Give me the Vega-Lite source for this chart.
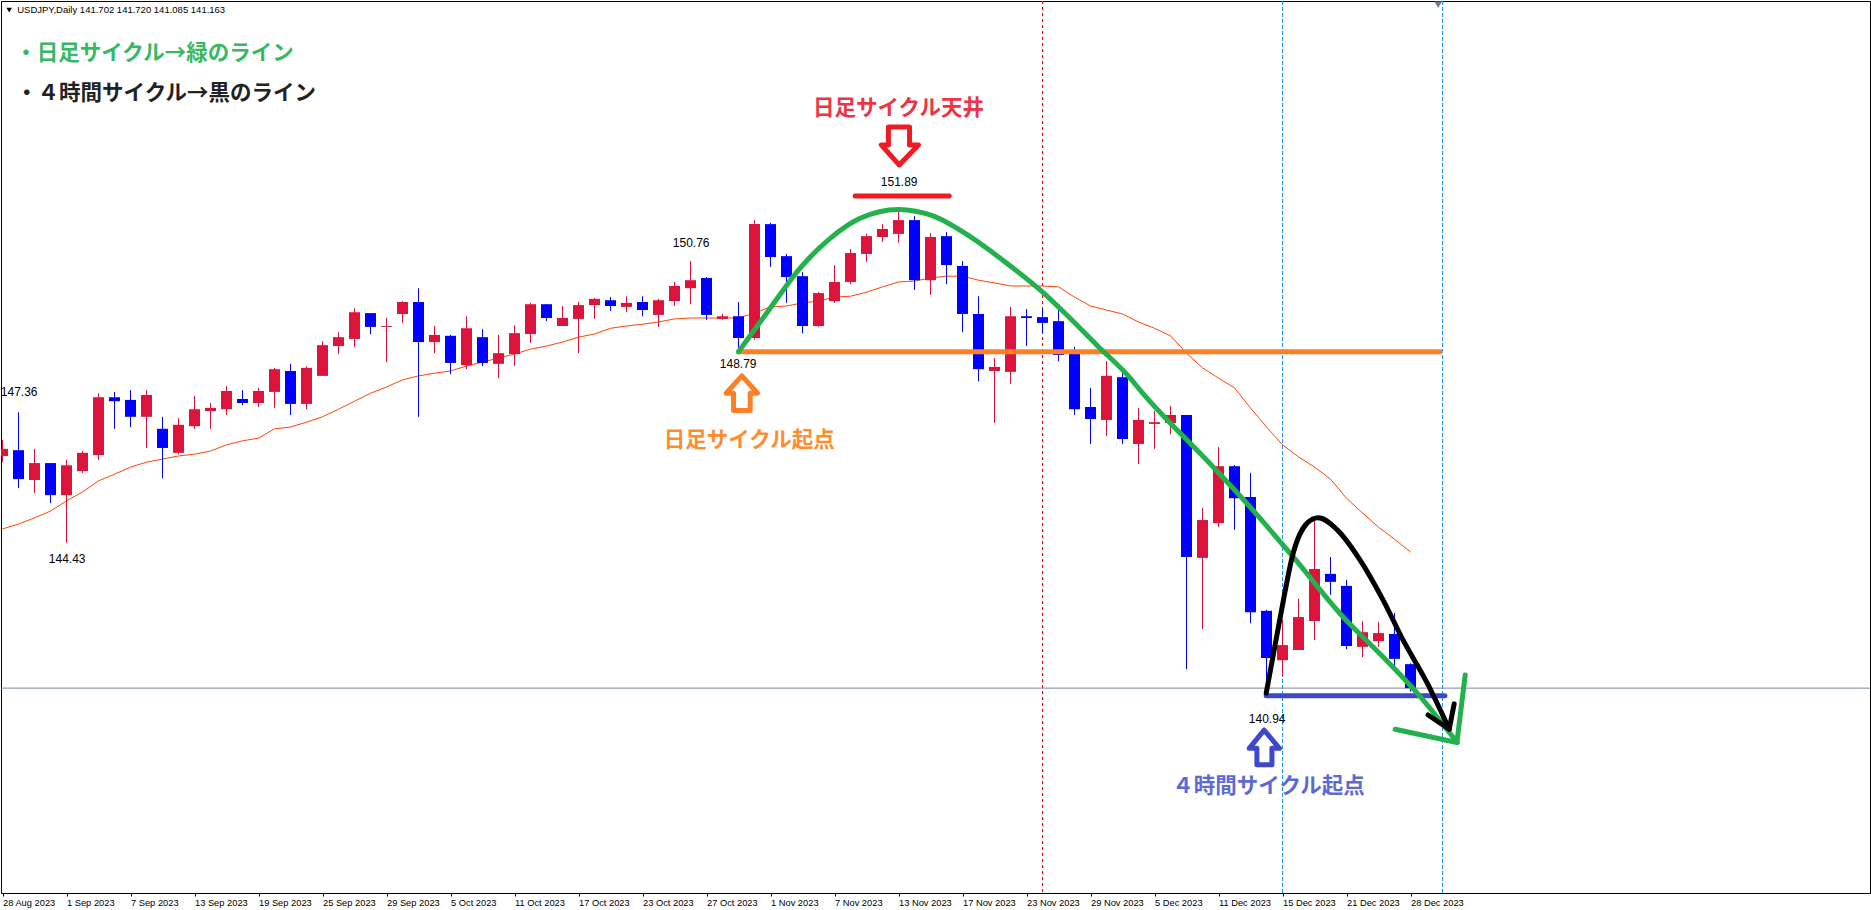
{
"$schema":"https://vega.github.io/schema/vega-lite/v6.json",
"width":1869,"height":892,
"autosize":{"type":"none"},
"padding":{"left":1,"top":1,"right":1,"bottom":17},
"background":"#ffffff",
"view":{"stroke":"#000000","strokeWidth":1,"fill":"#ffffff"},
"config":{"scale":{"continuousPadding":0},"axis":{"grid":false,"domain":false,"title":null}},
"datasets":{
"candles":[
{"i":0,"o":146.38,"h":146.74,"l":146.24,"c":146.54,"ma":144.74},
{"i":1,"o":146.51,"h":147.36,"l":145.66,"c":145.86,"ma":144.85},
{"i":2,"o":145.84,"h":146.54,"l":145.55,"c":146.22,"ma":144.99},
{"i":3,"o":146.22,"h":146.22,"l":145.32,"c":145.50,"ma":145.14},
{"i":4,"o":145.50,"h":146.29,"l":144.43,"c":146.17,"ma":145.37},
{"i":5,"o":146.04,"h":146.49,"l":146.00,"c":146.45,"ma":145.57},
{"i":6,"o":146.40,"h":147.79,"l":146.29,"c":147.70,"ma":145.82},
{"i":7,"o":147.70,"h":147.82,"l":146.99,"c":147.61,"ma":145.97},
{"i":8,"o":147.64,"h":147.86,"l":147.03,"c":147.26,"ma":146.13},
{"i":9,"o":147.26,"h":147.86,"l":146.56,"c":147.75,"ma":146.24},
{"i":10,"o":146.99,"h":147.26,"l":145.88,"c":146.56,"ma":146.31},
{"i":11,"o":146.45,"h":147.23,"l":146.42,"c":147.08,"ma":146.38},
{"i":12,"o":147.05,"h":147.73,"l":146.99,"c":147.43,"ma":146.42},
{"i":13,"o":147.39,"h":147.57,"l":146.99,"c":147.46,"ma":146.49},
{"i":14,"o":147.43,"h":147.95,"l":147.30,"c":147.84,"ma":146.63},
{"i":15,"o":147.66,"h":147.86,"l":147.52,"c":147.57,"ma":146.72},
{"i":16,"o":147.57,"h":147.91,"l":147.48,"c":147.84,"ma":146.78},
{"i":17,"o":147.82,"h":148.36,"l":147.46,"c":148.33,"ma":146.99},
{"i":18,"o":148.29,"h":148.45,"l":147.30,"c":147.55,"ma":147.03},
{"i":19,"o":147.55,"h":148.40,"l":147.43,"c":148.36,"ma":147.14},
{"i":20,"o":148.18,"h":148.96,"l":148.18,"c":148.87,"ma":147.26},
{"i":21,"o":148.85,"h":149.16,"l":148.67,"c":149.05,"ma":147.43},
{"i":22,"o":149.01,"h":149.70,"l":148.83,"c":149.61,"ma":147.61},
{"i":23,"o":149.59,"h":149.59,"l":149.12,"c":149.28,"ma":147.79},
{"i":24,"o":149.28,"h":149.48,"l":148.49,"c":149.30,"ma":147.93},
{"i":25,"o":149.57,"h":149.86,"l":149.37,"c":149.84,"ma":148.09},
{"i":26,"o":149.84,"h":150.15,"l":147.26,"c":148.94,"ma":148.18},
{"i":27,"o":148.94,"h":149.30,"l":148.69,"c":149.10,"ma":148.24},
{"i":28,"o":149.08,"h":149.10,"l":148.22,"c":148.47,"ma":148.29},
{"i":29,"o":148.42,"h":149.52,"l":148.33,"c":149.25,"ma":148.40},
{"i":30,"o":149.05,"h":149.23,"l":148.40,"c":148.47,"ma":148.49},
{"i":31,"o":148.45,"h":149.10,"l":148.13,"c":148.69,"ma":148.58},
{"i":32,"o":148.67,"h":149.32,"l":148.40,"c":149.14,"ma":148.67},
{"i":33,"o":149.12,"h":149.82,"l":148.92,"c":149.79,"ma":148.78},
{"i":34,"o":149.79,"h":149.79,"l":149.41,"c":149.48,"ma":148.85},
{"i":35,"o":149.30,"h":149.75,"l":149.30,"c":149.48,"ma":148.94},
{"i":36,"o":149.46,"h":149.84,"l":148.69,"c":149.77,"ma":149.05},
{"i":37,"o":149.77,"h":149.93,"l":149.46,"c":149.91,"ma":149.12},
{"i":38,"o":149.88,"h":149.95,"l":149.64,"c":149.75,"ma":149.25},
{"i":39,"o":149.73,"h":149.97,"l":149.61,"c":149.82,"ma":149.30},
{"i":40,"o":149.84,"h":149.97,"l":149.52,"c":149.66,"ma":149.34},
{"i":41,"o":149.55,"h":149.91,"l":149.28,"c":149.88,"ma":149.39},
{"i":42,"o":149.86,"h":150.29,"l":149.75,"c":150.20,"ma":149.46},
{"i":43,"o":150.15,"h":150.76,"l":149.79,"c":150.33,"ma":149.48},
{"i":44,"o":150.38,"h":150.40,"l":149.44,"c":149.55,"ma":149.48},
{"i":45,"o":149.46,"h":149.57,"l":149.44,"c":149.52,"ma":149.48},
{"i":46,"o":149.52,"h":149.84,"l":148.79,"c":149.03,"ma":149.48},
{"i":47,"o":149.03,"h":151.68,"l":148.99,"c":151.59,"ma":149.59},
{"i":48,"o":151.59,"h":151.62,"l":150.63,"c":150.85,"ma":149.73},
{"i":49,"o":150.87,"h":150.92,"l":149.82,"c":150.40,"ma":149.75},
{"i":50,"o":150.42,"h":150.51,"l":149.14,"c":149.30,"ma":149.82},
{"i":51,"o":149.30,"h":150.06,"l":149.28,"c":150.04,"ma":149.86},
{"i":52,"o":149.86,"h":150.67,"l":149.82,"c":150.29,"ma":149.95},
{"i":53,"o":150.29,"h":151.03,"l":150.24,"c":150.94,"ma":149.97},
{"i":54,"o":150.92,"h":151.37,"l":150.74,"c":151.32,"ma":150.06},
{"i":55,"o":151.30,"h":151.59,"l":151.19,"c":151.48,"ma":150.18},
{"i":56,"o":151.37,"h":151.89,"l":151.17,"c":151.68,"ma":150.29},
{"i":57,"o":151.68,"h":151.77,"l":150.11,"c":150.33,"ma":150.31},
{"i":58,"o":150.33,"h":151.39,"l":150.00,"c":151.30,"ma":150.38},
{"i":59,"o":151.32,"h":151.41,"l":150.24,"c":150.67,"ma":150.42},
{"i":60,"o":150.65,"h":150.76,"l":149.16,"c":149.57,"ma":150.42},
{"i":61,"o":149.57,"h":149.97,"l":148.06,"c":148.33,"ma":150.33},
{"i":62,"o":148.29,"h":148.58,"l":147.12,"c":148.38,"ma":150.27},
{"i":63,"o":148.27,"h":149.73,"l":148.00,"c":149.52,"ma":150.20},
{"i":64,"o":149.52,"h":149.68,"l":148.85,"c":149.48,"ma":150.20},
{"i":65,"o":149.50,"h":149.70,"l":149.14,"c":149.37,"ma":150.20},
{"i":66,"o":149.41,"h":149.66,"l":148.51,"c":148.65,"ma":150.18},
{"i":67,"o":148.76,"h":148.83,"l":147.30,"c":147.43,"ma":149.95},
{"i":68,"o":147.48,"h":147.91,"l":146.65,"c":147.21,"ma":149.75},
{"i":69,"o":147.19,"h":148.51,"l":146.83,"c":148.18,"ma":149.66},
{"i":70,"o":148.15,"h":148.24,"l":146.65,"c":146.76,"ma":149.57},
{"i":71,"o":146.65,"h":147.46,"l":146.20,"c":147.19,"ma":149.39},
{"i":72,"o":147.10,"h":147.39,"l":146.54,"c":147.14,"ma":149.25},
{"i":73,"o":147.12,"h":147.50,"l":146.87,"c":147.30,"ma":149.08},
{"i":74,"o":147.30,"h":147.30,"l":141.59,"c":144.11,"ma":148.69},
{"i":75,"o":144.09,"h":145.21,"l":142.49,"c":144.94,"ma":148.36},
{"i":76,"o":144.87,"h":146.58,"l":144.78,"c":146.15,"ma":148.13},
{"i":77,"o":146.15,"h":146.18,"l":144.72,"c":145.43,"ma":147.91},
{"i":78,"o":145.46,"h":146.00,"l":142.62,"c":142.87,"ma":147.46},
{"i":79,"o":142.90,"h":142.92,"l":140.94,"c":141.84,"ma":147.03},
{"i":80,"o":141.79,"h":142.69,"l":141.44,"c":142.13,"ma":146.63},
{"i":81,"o":142.02,"h":143.17,"l":142.02,"c":142.76,"ma":146.36},
{"i":82,"o":142.67,"h":144.94,"l":142.24,"c":143.84,"ma":146.13},
{"i":83,"o":143.73,"h":144.11,"l":143.26,"c":143.55,"ma":145.86},
{"i":84,"o":143.46,"h":143.59,"l":142.04,"c":142.11,"ma":145.43},
{"i":85,"o":142.09,"h":142.67,"l":141.86,"c":142.42,"ma":145.10},
{"i":86,"o":142.22,"h":142.65,"l":142.09,"c":142.40,"ma":144.78},
{"i":87,"o":142.38,"h":142.85,"l":141.57,"c":141.82,"ma":144.51},
{"i":88,"o":141.702,"h":141.72,"l":141.085,"c":141.163,"ma":144.22}
],
"shapes":[
{"s":"orangeLine","n":0,"bar":46.0,"price":148.72},{"s":"orangeLine","n":1,"bar":89.85,"price":148.72},
{"s":"redLine","n":0,"bar":53.29,"price":152.22},{"s":"redLine","n":1,"bar":59.17,"price":152.22},
{"s":"blueLine","n":0,"bar":78.98,"price":140.99},{"s":"blueLine","n":1,"bar":90.15,"price":140.99},
{"s":"redArrow","n":0,"bar":55.37,"price":153.77},{"s":"redArrow","n":1,"bar":56.69,"price":153.77},{"s":"redArrow","n":2,"bar":56.69,"price":153.37},{"s":"redArrow","n":3,"bar":57.25,"price":153.37},{"s":"redArrow","n":4,"bar":56.04,"price":152.92},{"s":"redArrow","n":5,"bar":54.92,"price":153.37},{"s":"redArrow","n":6,"bar":55.37,"price":153.37},{"s":"redArrow","n":7,"bar":55.37,"price":153.77},
{"s":"orangeArrow","n":0,"bar":46.21,"price":148.18},{"s":"orangeArrow","n":1,"bar":47.19,"price":147.79},{"s":"orangeArrow","n":2,"bar":46.73,"price":147.79},{"s":"orangeArrow","n":3,"bar":46.73,"price":147.40},{"s":"orangeArrow","n":4,"bar":45.69,"price":147.40},{"s":"orangeArrow","n":5,"bar":45.69,"price":147.79},{"s":"orangeArrow","n":6,"bar":45.23,"price":147.79},{"s":"orangeArrow","n":7,"bar":46.21,"price":148.18},
{"s":"blueArrow","n":0,"bar":78.85,"price":140.22},{"s":"blueArrow","n":1,"bar":79.81,"price":139.81},{"s":"blueArrow","n":2,"bar":79.34,"price":139.81},{"s":"blueArrow","n":3,"bar":79.34,"price":139.44},{"s":"blueArrow","n":4,"bar":78.4,"price":139.44},{"s":"blueArrow","n":5,"bar":78.4,"price":139.81},{"s":"blueArrow","n":6,"bar":77.92,"price":139.81},{"s":"blueArrow","n":7,"bar":78.85,"price":140.22}
],
"green":[
{"n":0,"bar":46.0,"price":148.72},{"n":1,"bar":47.98,"price":149.70},{"n":2,"bar":49.85,"price":150.60},{"n":3,"bar":51.73,"price":151.27},{"n":4,"bar":53.6,"price":151.72},{"n":5,"bar":56.0,"price":151.92},{"n":6,"bar":58.19,"price":151.77},{"n":7,"bar":60.48,"price":151.31},{"n":8,"bar":62.77,"price":150.71},{"n":9,"bar":64.85,"price":150.11},{"n":10,"bar":66.31,"price":149.62},{"n":11,"bar":68.4,"price":148.87},{"n":12,"bar":70.48,"price":148.13},{"n":13,"bar":71.1,"price":147.86},{"n":14,"bar":75.67,"price":146.13},{"n":15,"bar":77.98,"price":145.23},{"n":16,"bar":80.67,"price":144.11},{"n":17,"bar":83.79,"price":142.76},{"n":18,"bar":86.29,"price":141.86},{"n":19,"bar":88.42,"price":141.05},{"n":20,"bar":90.92,"price":139.94}
],
"greenHead":[
{"n":0,"bar":87.04,"price":140.24},{"n":1,"bar":90.9,"price":139.94},{"n":2,"bar":91.42,"price":141.46}
],
"black":[
{"n":0,"bar":78.98,"price":141.05},{"n":1,"bar":79.86,"price":142.76},{"n":2,"bar":80.67,"price":144.20},{"n":3,"bar":81.54,"price":144.87},{"n":4,"bar":82.23,"price":144.99},{"n":5,"bar":83.42,"price":144.72},{"n":6,"bar":84.85,"price":144.04},{"n":7,"bar":86.29,"price":143.14},{"n":8,"bar":87.54,"price":142.24},{"n":9,"bar":89.04,"price":141.28},{"n":10,"bar":90.42,"price":140.24}
],
"blackHead":[
{"n":0,"bar":89.1,"price":140.56},{"n":1,"bar":90.42,"price":140.24},{"n":2,"bar":90.73,"price":140.81}
],
"notes":[
{"t":"・日足サイクル→緑のライン","g":"green","bar":0.8,"price":155.42},
{"t":"・４時間サイクル→黒のライン","g":"black","bar":0.85,"price":154.52}
],
"labels":[
{"t":"日足サイクル天井","g":"red","bar":56.0,"price":154.18},
{"t":"日足サイクル起点","g":"orange","bar":46.67,"price":146.72},
{"t":"４時間サイクル起点","g":"blue","bar":79.13,"price":138.93}
],
"extremes":[
{"t":"151.89","bar":56.04,"price":152.53},
{"t":"150.76","bar":43.04,"price":151.16},
{"t":"148.79","bar":45.98,"price":148.44},
{"t":"147.36","bar":1.04,"price":147.81},
{"t":"144.43","bar":4.04,"price":144.06},
{"t":"140.94","bar":79.04,"price":140.48}
]
},
"layer":[
{"data":{"values":[{"bar":65}]},"mark":{"type":"rule","color":"#FF0000","strokeWidth":1,"strokeDash":[3,3]},
 "encoding":{"x":{"field":"bar","type":"quantitative","scale":{"domain":[-0.09375,116.71875],"nice":false,"zero":false},
   "axis":{"values":[0,4,8,12,16,20,24,28,32,36,40,44,48,52,56,60,64,68,72,76,80,84,88],"title":null,"grid":false,"domain":false,"tickColor":"#000000","tickSize":3,"tickWidth":1,"labelColor":"#000000","labelFont":"Liberation Sans","labelFontSize":9.3,"labelAlign":"left","labelBaseline":"top","labelPadding":2,"labelOverlap":false,"labelBound":false,"labelFlush":false,"labelAngle":0,
   "labelExpr":"{'0':'28 Aug 2023','4':'1 Sep 2023','8':'7 Sep 2023','12':'13 Sep 2023','16':'19 Sep 2023','20':'25 Sep 2023','24':'29 Sep 2023','28':'5 Oct 2023','32':'11 Oct 2023','36':'17 Oct 2023','40':'23 Oct 2023','44':'27 Oct 2023','48':'1 Nov 2023','52':'7 Nov 2023','56':'13 Nov 2023','60':'17 Nov 2023','64':'23 Nov 2023','68':'29 Nov 2023','72':'5 Dec 2023','76':'11 Dec 2023','80':'15 Dec 2023','84':'21 Dec 2023','88':'28 Dec 2023'}[datum.value]"}}}},
{"data":{"values":[{"bar":80},{"bar":90}]},"mark":{"type":"rule","color":"#1E90FF","strokeWidth":1,"strokeDash":[4,2]},
 "encoding":{"x":{"field":"bar","type":"quantitative","scale":{"domain":[-0.09375,116.71875],"nice":false,"zero":false}}}},
{"data":{"values":[{"price":141.163}]},"mark":{"type":"rule","color":"#778899","strokeWidth":1},
 "encoding":{"y":{"field":"price","type":"quantitative","scale":{"domain":[136.559,156.604],"nice":false,"zero":false},
   "axis":{"orient":"right","values":[155.90,155.16,154.41,153.67,152.93,152.19,151.44,150.70,149.96,149.22,148.47,147.73,146.99,146.25,145.50,144.76,144.02,143.28,142.53,141.79,141.05,140.31,139.56,138.82,138.08,137.34,136.59],"title":null,"grid":false,"domain":false,"labels":false,"ticks":true,"tickColor":"#000000","tickSize":2,"tickWidth":1}}}},
{"data":{"name":"candles"},"mark":{"type":"line","color":"#FF4500","strokeWidth":1,"interpolate":"linear","clip":true},
 "encoding":{"x":{"field":"i","type":"quantitative","scale":{"domain":[-0.09375,116.71875],"nice":false,"zero":false}},
  "y":{"field":"ma","type":"quantitative","scale":{"domain":[136.559,156.604],"nice":false,"zero":false}}}},
{"data":{"name":"candles"},"mark":{"type":"rule","strokeWidth":1,"clip":true},
 "encoding":{"x":{"field":"i","type":"quantitative","scale":{"domain":[-0.09375,116.71875],"nice":false,"zero":false}},
  "y":{"field":"h","type":"quantitative","scale":{"domain":[136.559,156.604],"nice":false,"zero":false}},
  "y2":{"field":"l"},
  "color":{"condition":{"test":"datum.c>datum.o","value":"#DC143C"},"value":"#0000FF"}}},
{"data":{"name":"candles"},"mark":{"type":"bar","size":11,"orient":"vertical","clip":true},
 "encoding":{"x":{"field":"i","type":"quantitative","scale":{"domain":[-0.09375,116.71875],"nice":false,"zero":false}},
  "y":{"field":"o","type":"quantitative","scale":{"domain":[136.559,156.604],"nice":false,"zero":false}},
  "y2":{"field":"c"},
  "color":{"condition":{"test":"datum.c>datum.o","value":"#DC143C"},"value":"#0000FF"}}},
{"data":{"name":"shapes"},"mark":{"type":"line","strokeCap":"round","strokeJoin":"round"},
 "encoding":{"x":{"field":"bar","type":"quantitative","scale":{"domain":[-0.09375,116.71875],"nice":false,"zero":false}},
  "y":{"field":"price","type":"quantitative","scale":{"domain":[136.559,156.604],"nice":false,"zero":false}},
  "order":{"field":"n","type":"quantitative"},
  "detail":{"field":"s","type":"nominal"},
  "strokeWidth":{"field":"s","type":"nominal","legend":null,"scale":{"domain":["orangeLine","redLine","blueLine","redArrow","orangeArrow","blueArrow"],"range":[5,5,5,4,4,4]}},
  "color":{"field":"s","type":"nominal","legend":null,"scale":{"domain":["orangeLine","redLine","blueLine","redArrow","orangeArrow","blueArrow"],"range":["#FF7F27","#ED1C24","#3F48CC","#ED1C24","#FF7F27","#3F48CC"]}}}},
{"data":{"name":"green"},"mark":{"type":"line","color":"#22B14C","strokeWidth":5,"strokeCap":"round","interpolate":"monotone"},
 "encoding":{"x":{"field":"bar","type":"quantitative","scale":{"domain":[-0.09375,116.71875],"nice":false,"zero":false}},
  "y":{"field":"price","type":"quantitative","scale":{"domain":[136.559,156.604],"nice":false,"zero":false}},
  "order":{"field":"n","type":"quantitative"}}},
{"data":{"name":"greenHead"},"mark":{"type":"line","color":"#22B14C","strokeWidth":5,"strokeCap":"round","strokeJoin":"round"},
 "encoding":{"x":{"field":"bar","type":"quantitative","scale":{"domain":[-0.09375,116.71875],"nice":false,"zero":false}},
  "y":{"field":"price","type":"quantitative","scale":{"domain":[136.559,156.604],"nice":false,"zero":false}},
  "order":{"field":"n","type":"quantitative"}}},
{"data":{"name":"black"},"mark":{"type":"line","color":"#000000","strokeWidth":5,"strokeCap":"round","interpolate":"monotone"},
 "encoding":{"x":{"field":"bar","type":"quantitative","scale":{"domain":[-0.09375,116.71875],"nice":false,"zero":false}},
  "y":{"field":"price","type":"quantitative","scale":{"domain":[136.559,156.604],"nice":false,"zero":false}},
  "order":{"field":"n","type":"quantitative"}}},
{"data":{"name":"blackHead"},"mark":{"type":"line","color":"#000000","strokeWidth":5,"strokeCap":"round","strokeJoin":"round"},
 "encoding":{"x":{"field":"bar","type":"quantitative","scale":{"domain":[-0.09375,116.71875],"nice":false,"zero":false}},
  "y":{"field":"price","type":"quantitative","scale":{"domain":[136.559,156.604],"nice":false,"zero":false}},
  "order":{"field":"n","type":"quantitative"}}},
{"data":{"name":"notes"},"mark":{"type":"text","align":"left","baseline":"middle","font":"Noto Sans CJK JP","fontWeight":"bold","fontSize":21.5},
 "encoding":{"x":{"field":"bar","type":"quantitative","scale":{"domain":[-0.09375,116.71875],"nice":false,"zero":false}},
  "y":{"field":"price","type":"quantitative","scale":{"domain":[136.559,156.604],"nice":false,"zero":false}},
  "text":{"field":"t"},
  "color":{"field":"g","type":"nominal","legend":null,"scale":{"domain":["green","black","red","orange","blue"],"range":["#37B865","#222222","#EE3344","#FF8C2E","#5B6AD0"]}}}},
{"data":{"name":"labels"},"mark":{"type":"text","align":"center","baseline":"middle","font":"Noto Sans CJK JP","fontWeight":"bold","fontSize":21.5},
 "encoding":{"x":{"field":"bar","type":"quantitative","scale":{"domain":[-0.09375,116.71875],"nice":false,"zero":false}},
  "y":{"field":"price","type":"quantitative","scale":{"domain":[136.559,156.604],"nice":false,"zero":false}},
  "text":{"field":"t"},
  "color":{"field":"g","type":"nominal","legend":null,"scale":{"domain":["green","black","red","orange","blue"],"range":["#37B865","#222222","#EE3344","#FF8C2E","#5B6AD0"]}}}},
{"data":{"name":"extremes"},"mark":{"type":"text","align":"center","baseline":"middle","font":"Liberation Sans","fontSize":12,"color":"#000000"},
 "encoding":{"x":{"field":"bar","type":"quantitative","scale":{"domain":[-0.09375,116.71875],"nice":false,"zero":false}},
  "y":{"field":"price","type":"quantitative","scale":{"domain":[136.559,156.604],"nice":false,"zero":false}},
  "text":{"field":"t"}}},
{"data":{"values":[{"t":"USDJPY,Daily  141.702 141.720 141.085 141.163","bar":0.92,"price":156.40}]},"mark":{"type":"text","align":"left","baseline":"middle","font":"Liberation Sans","fontSize":9.5,"color":"#000000"},
 "encoding":{"x":{"field":"bar","type":"quantitative","scale":{"domain":[-0.09375,116.71875],"nice":false,"zero":false}},
  "y":{"field":"price","type":"quantitative","scale":{"domain":[136.559,156.604],"nice":false,"zero":false}},
  "text":{"field":"t"}}},
{"data":{"values":[{"bar":0.42,"price":156.40}]},"mark":{"type":"point","shape":"triangle-down","filled":true,"size":30,"color":"#000000","opacity":1},
 "encoding":{"x":{"field":"bar","type":"quantitative","scale":{"domain":[-0.09375,116.71875],"nice":false,"zero":false}},
  "y":{"field":"price","type":"quantitative","scale":{"domain":[136.559,156.604],"nice":false,"zero":false}}}},
{"data":{"values":[{"bar":89.73,"price":156.52}]},"mark":{"type":"point","shape":"triangle-down","filled":true,"size":60,"color":"#708090","opacity":1},
 "encoding":{"x":{"field":"bar","type":"quantitative","scale":{"domain":[-0.09375,116.71875],"nice":false,"zero":false}},
  "y":{"field":"price","type":"quantitative","scale":{"domain":[136.559,156.604],"nice":false,"zero":false}}}}
],
"resolve":{"scale":{"color":"independent","strokeWidth":"independent"}}
}
